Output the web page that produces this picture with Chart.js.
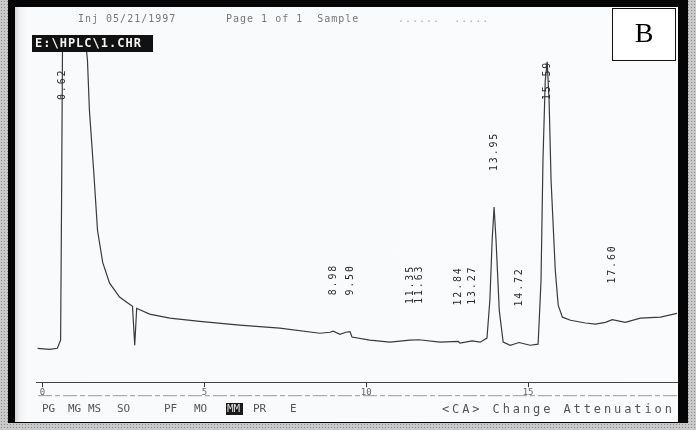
<!DOCTYPE html>
<html>
<head>
<meta charset="utf-8">
<script src="https://cdn.jsdelivr.net/npm/chart.js@4/dist/chart.umd.min.js"></script>
<style>
  html, body { margin: 0; padding: 0; }
  body {
    width: 696px; height: 430px; overflow: hidden; position: relative;
    background-color: #c9c9c9;
    background-image: radial-gradient(#8a8a8a 0.8px, transparent 0.9px);
    background-size: 3px 3px;
  }
  #frame {
    position: absolute; left: 8px; top: 0; width: 680px; height: 423px;
    background: #050505;
  }
  #paper {
    position: absolute; left: 15px; top: 7px; width: 663px; height: 415px;
    background: linear-gradient(90deg, #d6d6d6 0px, #f1f2f4 5px, #f9fafb 12px, #fafbfc 100%);
  }
  #chart { position: absolute; left: 0; top: 0; }
</style>
</head>
<body>
<div id="frame"></div>
<div id="paper"></div>
<canvas id="chart" width="696" height="430"></canvas>
<script>
// Detector trace: retention time (min) and signal (mV, recorder scale)
const traceTime = [
  -0.15, 0.22, 0.46, 0.56, 0.59, 0.62, 1.33, 1.39, 1.45, 1.58, 1.70, 1.86, 2.07, 2.38,
  2.69, 2.78, 2.85, 2.91, 3.31, 3.93, 4.86, 6.09, 7.33, 8.57, 8.88, 8.98, 9.19, 9.37,
  9.50, 9.56, 10.11, 10.42, 10.73, 11.35, 11.63, 12.28, 12.84, 12.90, 13.27, 13.52,
  13.73, 13.82, 13.89, 13.95, 14.01, 14.11, 14.23, 14.45, 14.72, 15.06, 15.31, 15.40,
  15.46, 15.53, 15.59, 15.65, 15.71, 15.84, 15.93, 16.06, 16.31, 16.77, 17.08, 17.39,
  17.60, 18.00, 18.47, 19.09, 19.64
];
const traceSignal = [
  9.9, 9.6, 9.9, 12.3, 53.0, 100, 100, 94.0, 79.5, 62.0, 44.4, 35.0, 29.0, 24.9,
  22.8, 22.2, 10.8, 21.6, 19.9, 18.7, 17.8, 16.7, 15.8, 14.3, 14.6, 14.9, 14.0, 14.6,
  14.8, 13.2, 12.3, 12.0, 11.7, 12.3, 12.4, 11.7, 11.9, 11.4, 12.1, 11.7,
  12.9, 24.0, 41.5, 51.2, 41.5, 21.0, 11.7, 10.8, 11.6, 10.8, 11.1, 29.8,
  65.0, 88.0, 93.6, 82.0, 59.0, 32.7, 22.5, 19.0, 18.1, 17.3, 17.0, 17.5,
  18.3, 17.5, 18.7, 19.0, 20.2
];

// Integrated peaks: retention time (min) and printed label
const peakTimes  = [0.62, 8.98, 9.50, 11.35, 11.63, 12.84, 13.27, 13.95, 14.72, 15.59, 17.60];
const peakLabels = ['0.62', '8.98', '9.50', '11.35', '11.63', '12.84', '13.27', '13.95', '14.72', '15.59', '17.60'];

// Time axis ticks (min)
const axisTicks = [0, 5, 10, 15];

// Softkey menu line
const menuKeys = ['PG', 'MG', 'MS', 'SO', 'PF', 'MO', 'MM', 'PR', 'E'];
const menuActive = 'MM';
const promptText = '<CA> Change Attenuation';
const headerLeft = 'Inj 05/21/1997';
const headerMid = 'Page 1 of 1  Sample';
const headerRight = '......  .....';
const fileTag = 'E:\\HPLC\\1.CHR';
const panelTag = 'B';

function signalAt(t) {
  for (let i = 1; i < traceTime.length; i++) {
    if (t <= traceTime[i]) {
      const t0 = traceTime[i - 1], t1 = traceTime[i];
      const f = (t - t0) / (t1 - t0);
      return traceSignal[i - 1] + f * (traceSignal[i] - traceSignal[i - 1]);
    }
  }
  return traceSignal[traceSignal.length - 1];
}

const decorations = {
  id: 'decorations',
  afterDatasetsDraw(chart) {
    const ctx = chart.ctx;
    const xs = chart.scales.x, ys = chart.scales.y;
    const area = chart.chartArea;
    ctx.save();

    // vertical peak annotations
    ctx.fillStyle = '#2a2a2a';
    ctx.font = '10px "DejaVu Sans Mono"';
    ctx.letterSpacing = '1.8px';
    ctx.textBaseline = 'middle';
    ctx.textAlign = 'left';
    peakTimes.forEach((t, i) => {
      const px = xs.getPixelForValue(t);
      const py = Math.max(ys.getPixelForValue(signalAt(t)) - 36, area.top + 60);
      ctx.save();
      ctx.translate(px, py);
      ctx.rotate(-Math.PI / 2);
      ctx.fillText(peakLabels[i], 0, 0);
      ctx.restore();
    });
    ctx.letterSpacing = '0px';

    // secondary scale rule under the axis
    ctx.strokeStyle = '#9a9a9a';
    ctx.lineWidth = 1;
    ctx.setLineDash([14, 3, 5, 3]);
    ctx.beginPath();
    ctx.moveTo(area.left + 2, area.bottom + 13.5);
    ctx.lineTo(area.right, area.bottom + 13.5);
    ctx.stroke();
    ctx.setLineDash([]);

    // file tag (inverse video)
    ctx.fillStyle = '#111';
    ctx.fillRect(32, 35, 121, 17);
    ctx.fillStyle = '#f4f4f4';
    ctx.font = 'bold 12px "DejaVu Sans Mono"';
    ctx.letterSpacing = '1px';
    ctx.textBaseline = 'middle';
    ctx.fillText(fileTag, 35, 44);

    // header line
    ctx.fillStyle = '#777';
    ctx.font = '10px "DejaVu Sans Mono"';
    ctx.letterSpacing = '1px';
    ctx.fillText(headerLeft, 78, 19);
    ctx.fillText(headerMid, 226, 19);
    ctx.fillStyle = '#aaa';
    ctx.fillText(headerRight, 398, 19);

    // softkey menu
    const keyX = [42, 68, 88, 117, 164, 194, 227, 253, 290];
    ctx.font = '11px "DejaVu Sans Mono"';
    ctx.letterSpacing = '0px';
    ctx.textBaseline = 'middle';
    menuKeys.forEach((k, i) => {
      if (k === menuActive) {
        ctx.fillStyle = '#1a1a1a';
        ctx.fillRect(keyX[i] - 1, 403, 17, 12);
        ctx.fillStyle = '#dcdcdc';
      } else {
        ctx.fillStyle = '#555';
      }
      ctx.fillText(k, keyX[i], 409.5);
    });

    ctx.fillStyle = '#555';
    ctx.font = '12px "DejaVu Sans Mono"';
    ctx.letterSpacing = '2.9px';
    ctx.fillText(promptText, 442, 410);
    ctx.letterSpacing = '0px';

    // panel letter
    ctx.fillStyle = '#ffffff';
    ctx.fillRect(612, 8, 63, 52);
    ctx.strokeStyle = '#111';
    ctx.lineWidth = 1;
    ctx.strokeRect(612.5, 8.5, 63, 52);
    ctx.fillStyle = '#000';
    ctx.font = '28px "Liberation Serif"';
    ctx.textAlign = 'center';
    ctx.textBaseline = 'middle';
    ctx.fillText(panelTag, 644, 35);

    ctx.restore();
  }
};

new Chart(document.getElementById('chart'), {
  type: 'line',
  data: {
    datasets: [{
      data: traceTime.map((t, i) => ({ x: t, y: traceSignal[i] })),
      borderColor: '#3a3a3a',
      borderWidth: 1.2,
      pointRadius: 0,
      tension: 0,
      fill: false
    }]
  },
  options: {
    responsive: false,
    animation: false,
    events: [],
    layout: { padding: { left: 36, right: 19, top: 40, bottom: 32 } },
    plugins: { legend: { display: false }, tooltip: { enabled: false } },
    scales: {
      x: {
        type: 'linear',
        min: -0.2,
        max: 19.6,
        afterBuildTicks: (scale) => { scale.ticks = axisTicks.map(v => ({ value: v })); },
        grid: { display: true, drawOnChartArea: false, drawTicks: true, tickLength: 5, color: '#333' },
        border: { display: true, color: '#444', width: 1 },
        ticks: { color: '#666', font: { family: 'DejaVu Sans Mono', size: 9 }, padding: 0, maxRotation: 0, autoSkip: false }
      },
      y: {
        display: false,
        min: 0,
        max: 100
      }
    }
  },
  plugins: [decorations]
});
</script>
</body>
</html>
